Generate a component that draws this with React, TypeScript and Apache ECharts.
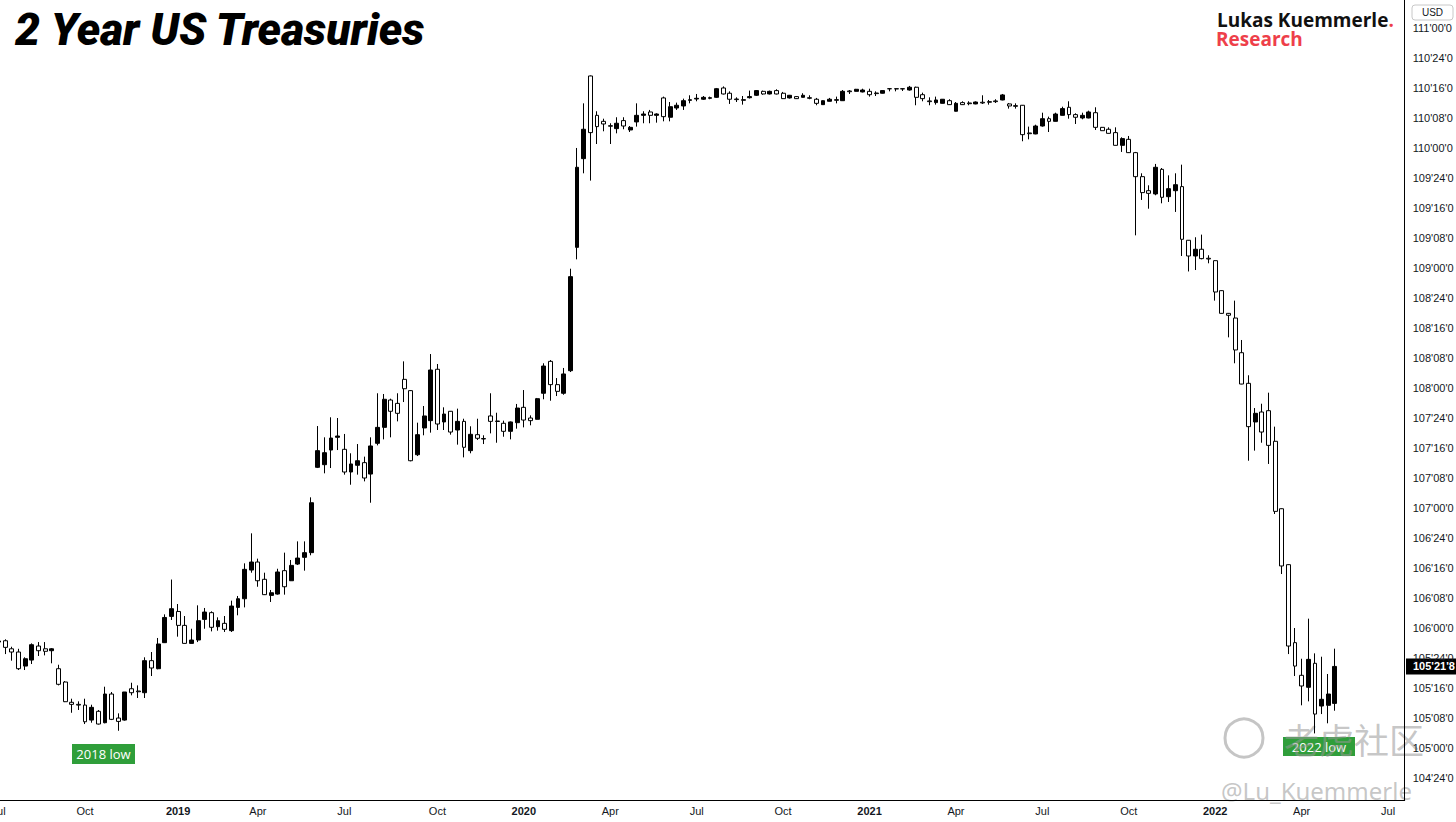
import React, { useEffect, useRef } from 'react';
import * as echarts from 'echarts';

// ---- data: weekly candles [open, close, low, high], first week starts 2018-07-02
const START_UTC = Date.UTC(2018, 6, 2);
const WEEK_COUNT = 212; // axis runs to mid-July 2022

const candles2018 = [
  [105.892, 105.883, 105.867, 105.908], [105.894, 105.839, 105.783, 105.906], [105.827, 105.800, 105.728, 105.844],
  [105.800, 105.661, 105.650, 105.827], [105.683, 105.744, 105.650, 105.756], [105.733, 105.861, 105.700, 105.872],
  [105.850, 105.811, 105.767, 105.883], [105.827, 105.806, 105.772, 105.883], [105.811, 105.827, 105.706, 105.833],
  [105.661, 105.531, 105.522, 105.694], [105.550, 105.386, 105.383, 105.558], [105.381, 105.364, 105.294, 105.411],
  [105.364, 105.358, 105.317, 105.389], [105.358, 105.219, 105.200, 105.411], [105.233, 105.339, 105.211, 105.361],
  [105.306, 105.200, 105.196, 105.317], [105.211, 105.450, 105.206, 105.511], [105.450, 105.239, 105.233, 105.467],
  [105.250, 105.222, 105.144, 105.289], [105.233, 105.467, 105.228, 105.467], [105.494, 105.461, 105.439, 105.544],
  [105.475, 105.469, 105.417, 105.522], [105.461, 105.728, 105.417, 105.756], [105.728, 105.667, 105.600, 105.800],
  [105.661, 105.867, 105.656, 105.917], [105.878, 106.088, 105.875, 106.114], [106.097, 106.161, 106.067, 106.404],
];
const candles2019 = [
  [106.138, 106.022, 105.928, 106.200], [106.022, 105.872, 105.871, 106.100], [105.872, 105.900, 105.871, 105.994],
  [105.900, 106.061, 105.883, 106.189], [106.072, 106.133, 105.994, 106.167], [106.128, 106.006, 105.972, 106.139],
  [106.011, 106.061, 105.978, 106.089], [106.039, 105.989, 105.967, 106.100], [105.978, 106.183, 105.967, 106.228],
  [106.172, 106.244, 106.106, 106.267], [106.244, 106.489, 106.172, 106.539], [106.483, 106.550, 106.461, 106.789],
  [106.550, 106.394, 106.344, 106.578], [106.406, 106.278, 106.275, 106.461], [106.272, 106.294, 106.217, 106.317],
  [106.283, 106.467, 106.278, 106.494], [106.478, 106.344, 106.278, 106.628], [106.394, 106.522, 106.392, 106.567],
  [106.533, 106.583, 106.525, 106.722], [106.589, 106.628, 106.478, 106.722], [106.628, 107.044, 106.606, 107.089],
  [107.339, 107.478, 107.333, 107.683], [107.361, 107.461, 107.289, 107.589], [107.483, 107.583, 107.333, 107.756],
  [107.589, 107.600, 107.483, 107.750], [107.489, 107.300, 107.278, 107.617], [107.300, 107.367, 107.194, 107.456],
  [107.356, 107.394, 107.278, 107.533], [107.378, 107.250, 107.222, 107.428], [107.283, 107.517, 107.044, 107.589],
  [107.539, 107.672, 107.522, 107.956], [107.672, 107.906, 107.572, 107.950], [107.900, 107.806, 107.589, 107.911],
  [107.872, 107.789, 107.722, 107.956], [108.072, 107.994, 107.883, 108.222], [107.978, 107.394, 107.389, 107.983],
  [107.444, 107.611, 107.433, 107.711], [107.667, 107.767, 107.606, 107.850], [107.728, 108.150, 107.628, 108.283],
  [108.156, 107.700, 107.650, 108.200], [107.717, 107.783, 107.650, 107.839], [107.806, 107.633, 107.611, 107.808],
  [107.650, 107.722, 107.528, 107.828], [107.722, 107.506, 107.422, 107.744], [107.478, 107.614, 107.456, 107.681],
  [107.611, 107.581, 107.567, 107.744], [107.579, 107.575, 107.533, 107.606], [107.767, 107.722, 107.622, 107.956],
  [107.725, 107.721, 107.544, 107.794], [107.706, 107.639, 107.594, 107.728], [107.639, 107.717, 107.572, 107.721],
  [107.711, 107.833, 107.661, 107.867],
];
const candles2020 = [
  [107.839, 107.733, 107.672, 107.983], [107.750, 107.728, 107.689, 107.772], [107.739, 107.911, 107.738, 107.917],
  [107.956, 108.183, 107.906, 108.206], [108.222, 108.028, 107.894, 108.233], [108.028, 107.972, 107.933, 108.083],
  [107.956, 108.117, 107.944, 108.167], [108.144, 108.928, 108.133, 108.994], [109.172, 109.839, 109.072, 110.000],
  [109.911, 110.156, 109.789, 110.372], [110.600, 110.128, 109.728, 110.604], [110.272, 110.178, 110.033, 110.306],
  [110.222, 110.200, 110.139, 110.244], [110.186, 110.181, 110.033, 110.206], [110.161, 110.206, 110.122, 110.256],
  [110.228, 110.183, 110.156, 110.256], [110.150, 110.172, 110.133, 110.183], [110.217, 110.272, 110.178, 110.372],
  [110.272, 110.283, 110.206, 110.306], [110.300, 110.272, 110.206, 110.317], [110.272, 110.283, 110.211, 110.289],
  [110.417, 110.261, 110.222, 110.428], [110.256, 110.344, 110.222, 110.383], [110.333, 110.356, 110.317, 110.378],
  [110.350, 110.394, 110.317, 110.411], [110.397, 110.402, 110.372, 110.439], [110.408, 110.414, 110.389, 110.450],
  [110.406, 110.422, 110.400, 110.433], [110.414, 110.419, 110.406, 110.428], [110.422, 110.494, 110.417, 110.500],
  [110.500, 110.450, 110.446, 110.513], [110.456, 110.406, 110.367, 110.472], [110.408, 110.403, 110.383, 110.422],
  [110.403, 110.397, 110.361, 110.433], [110.419, 110.428, 110.412, 110.478], [110.439, 110.478, 110.433, 110.483],
  [110.472, 110.450, 110.444, 110.478], [110.450, 110.472, 110.446, 110.478], [110.478, 110.450, 110.446, 110.489],
  [110.456, 110.411, 110.408, 110.467], [110.417, 110.439, 110.412, 110.442], [110.428, 110.411, 110.408, 110.433],
  [110.422, 110.439, 110.421, 110.456], [110.419, 110.414, 110.406, 110.439], [110.406, 110.372, 110.356, 110.417],
  [110.361, 110.394, 110.358, 110.397], [110.389, 110.406, 110.388, 110.417], [110.403, 110.397, 110.372, 110.428],
  [110.394, 110.472, 110.392, 110.483], [110.475, 110.469, 110.450, 110.483], [110.472, 110.489, 110.471, 110.492],
  [110.467, 110.483, 110.463, 110.494],
];
const candles2021 = [
  [110.472, 110.444, 110.428, 110.494], [110.458, 110.453, 110.433, 110.472], [110.456, 110.478, 110.454, 110.481],
  [110.494, 110.493, 110.472, 110.496], [110.494, 110.492, 110.472, 110.496], [110.494, 110.492, 110.475, 110.496],
  [110.483, 110.506, 110.478, 110.517], [110.506, 110.422, 110.356, 110.511], [110.444, 110.411, 110.389, 110.461],
  [110.392, 110.386, 110.356, 110.422], [110.378, 110.400, 110.361, 110.428], [110.372, 110.406, 110.371, 110.408],
  [110.394, 110.361, 110.358, 110.406], [110.306, 110.372, 110.304, 110.383], [110.378, 110.361, 110.358, 110.389],
  [110.375, 110.369, 110.356, 110.389], [110.367, 110.383, 110.364, 110.388], [110.381, 110.375, 110.367, 110.439],
  [110.386, 110.381, 110.361, 110.400], [110.392, 110.386, 110.375, 110.406], [110.400, 110.442, 110.397, 110.450],
  [110.367, 110.350, 110.328, 110.375], [110.353, 110.347, 110.328, 110.372], [110.356, 110.111, 110.056, 110.358],
  [110.125, 110.119, 110.072, 110.178], [110.117, 110.183, 110.114, 110.194], [110.183, 110.244, 110.178, 110.294],
  [110.244, 110.222, 110.133, 110.261], [110.222, 110.283, 110.221, 110.294], [110.272, 110.328, 110.271, 110.344],
  [110.339, 110.278, 110.244, 110.389], [110.278, 110.256, 110.200, 110.289], [110.250, 110.272, 110.239, 110.294],
  [110.250, 110.300, 110.247, 110.311], [110.294, 110.172, 110.150, 110.339], [110.172, 110.144, 110.142, 110.175],
  [110.156, 110.122, 110.121, 110.172], [110.128, 110.022, 110.021, 110.172], [110.022, 110.078, 109.967, 110.089],
  [110.072, 109.961, 109.958, 110.100], [109.961, 109.761, 109.272, 109.967], [109.761, 109.628, 109.567, 109.789],
  [109.644, 109.622, 109.494, 109.689], [109.617, 109.839, 109.606, 109.867], [109.822, 109.589, 109.539, 109.833],
  [109.594, 109.661, 109.550, 109.772], [109.644, 109.694, 109.467, 109.789], [109.678, 109.239, 109.100, 109.861],
  [109.231, 109.100, 108.971, 109.233], [109.100, 109.156, 108.983, 109.256], [109.156, 109.078, 109.072, 109.278],
  [109.081, 109.075, 109.039, 109.106],
];
const candles2022 = [
  [109.061, 108.800, 108.728, 109.064], [108.811, 108.622, 108.619, 108.814], [108.622, 108.606, 108.422, 108.625],
  [108.583, 108.317, 108.206, 108.728], [108.294, 108.033, 108.031, 108.400], [108.039, 107.678, 107.394, 108.106],
  [107.717, 107.789, 107.478, 107.833], [107.800, 107.633, 107.544, 107.869], [107.811, 107.522, 107.367, 107.961],
  [107.556, 106.972, 106.950, 107.678], [106.994, 106.517, 106.450, 106.997], [106.528, 105.850, 105.783, 106.531],
  [105.878, 105.683, 105.600, 106.000], [105.606, 105.517, 105.356, 105.744], [105.506, 105.739, 105.389, 106.078],
  [105.706, 105.283, 105.122, 105.789], [105.350, 105.406, 105.283, 105.761], [105.356, 105.450, 105.206, 105.617],
  [105.372, 105.680, 105.311, 105.828],
];

const Y_MIN = 104.567;
const Y_MAX = 111.233;
const Y_TICKS = [
  104.75, 105, 105.25, 105.5, 105.75, 106, 106.25, 106.5, 106.75, 107, 107.25, 107.5, 107.75,
  108, 108.25, 108.5, 108.75, 109, 109.25, 109.5, 109.75, 110, 110.25, 110.5, 110.75, 111,
];
const MONTH_LABELS: Record<number, string> = { 3: 'Apr', 6: 'Jul', 9: 'Oct' };

function fmt32(v: number): string {
  let w = Math.floor(v + 1e-9);
  const f = (v - w) * 32;
  let n = Math.floor(f + 1e-6);
  let q = Math.round((f - n) * 4);
  if (q === 4) { q = 0; n += 1; }
  if (n === 32) { n = 0; w += 1; }
  return `${w}'${String(n).padStart(2, '0')}'${[0, 2, 5, 8][q]}`;
}

export default function App() {
  const ref = useRef<HTMLDivElement>(null);
  useEffect(() => {
    document.body.style.margin = '0';
    const chart = echarts.init(ref.current!, null, { renderer: 'svg' });
    const candles = [...candles2018, ...candles2019, ...candles2020, ...candles2021, ...candles2022];
    const dates: string[] = [];
    const labelText: Record<number, string> = {};
    for (let i = 0; i < WEEK_COUNT; i++) {
      const d = new Date(START_UTC + i * 7 * 86400000);
      const m = d.getUTCMonth();
      dates.push(d.toISOString().slice(0, 10));
      if (d.getUTCDate() <= 7 && m % 3 === 0) {
        labelText[i] = m === 0 ? `{y|${d.getUTCFullYear()}}` : MONTH_LABELS[m];
      }
    }
    const axisFont = '"Liberation Sans", Arial, sans-serif';
    chart.setOption({
      animation: false,
      backgroundColor: '#ffffff',
      grid: { left: -4.7, right: 51.3, top: 0, bottom: 22, containLabel: false, outerBoundsMode: 'none' },
      xAxis: {
        type: 'category',
        data: dates,
        boundaryGap: true,
        axisLine: { show: true, lineStyle: { color: '#000', width: 1 } },
        axisTick: { show: false },
        splitLine: { show: false },
        axisLabel: {
          interval: (i: number) => labelText[i] !== undefined,
          formatter: (_v: string, i: number) => labelText[i] || '',
          margin: 5,
          fontSize: 11,
          color: '#131722',
          fontFamily: axisFont,
          rich: { y: { fontSize: 11, fontWeight: 'bold', color: '#131722', fontFamily: axisFont } },
        },
      },
      yAxis: {
        type: 'value',
        position: 'right',
        min: Y_MIN,
        max: Y_MAX,
        scale: true,
        axisLine: { show: true, lineStyle: { color: '#000', width: 1 } },
        axisTick: { show: false },
        splitLine: { show: false },
        axisLabel: {
          customValues: Y_TICKS,
          formatter: (v: number) => fmt32(v),
          margin: 8,
          fontSize: 11,
          color: '#131722',
          fontFamily: axisFont,
        },
      },
      series: [
        {
          type: 'candlestick',
          data: candles,
          barWidth: 4.4,
          itemStyle: { color: '#000', color0: '#fff', borderColor: '#000', borderColor0: '#000', borderWidth: 1 },
        },
      ],
    });

    const last = candles[candles.length - 1][1];
    const ly = chart.convertToPixel({ yAxisIndex: 0 }, last) as number;
    const wm = 'rgba(150,150,150,0.55)';
    chart.setOption({
      graphic: [
        { type: 'text', left: 15, top: 7, style: { text: '2 Year US Treasuries', font: 'italic 900 44.5px Roboto', fill: '#000' } },
        {
          type: 'text', left: 1217, top: 10,
          style: {
            text: '{a|Lukas Kuemmerle}{b|.}',
            rich: {
              a: { font: 'bold 19px "Open Sans"', fill: '#111', lineHeight: 19 },
              b: { font: 'bold 19px "Open Sans"', fill: '#ee3f4a', lineHeight: 19 },
            },
          },
        },
        { type: 'text', left: 1216, top: 29, style: { text: 'Research', font: 'bold 19px "Open Sans"', fill: '#ee3f4a', lineHeight: 19 } },
        { type: 'rect', shape: { x: 1412, y: 5, width: 41, height: 15, r: 3 }, style: { fill: '#fff', stroke: '#c8c8c8', lineWidth: 1 } },
        { type: 'text', x: 1432.5, y: 12.5, style: { text: 'USD', font: '10px "Liberation Sans"', fill: '#131722', align: 'center', verticalAlign: 'middle' } },
        { type: 'rect', shape: { x: 1406, y: ly - 8, width: 50, height: 16 }, style: { fill: '#000' } },
        { type: 'text', x: 1413, y: ly, style: { text: fmt32(last), font: 'bold 11px "Liberation Sans"', fill: '#fff', verticalAlign: 'middle' } },
        { type: 'rect', shape: { x: 72, y: 744, width: 63, height: 20 }, style: { fill: '#2f9e3a' } },
        { type: 'text', x: 103.5, y: 754, style: { text: '2018 low', font: '13px "Open Sans"', fill: '#fff', align: 'center', verticalAlign: 'middle' } },
        { type: 'rect', shape: { x: 1283, y: 737, width: 72, height: 19 }, style: { fill: '#2f9e3a' } },
        { type: 'text', x: 1319, y: 746.5, style: { text: '2022 low', font: '13px "Open Sans"', fill: '#fff', align: 'center', verticalAlign: 'middle' } },
        { type: 'circle', shape: { cx: 1244, cy: 738, r: 19 }, style: { fill: 'none', stroke: wm, lineWidth: 3 } },
        { type: 'text', x: 1284, y: 738, style: { text: '老虎社区', font: '35px "Noto Sans CJK SC"', fill: wm, verticalAlign: 'middle' } },
        { type: 'text', x: 1221, y: 790, style: { text: '@Lu_Kuemmerle', font: '24px "Noto Sans"', fill: wm, verticalAlign: 'middle' } },
      ],
    });
    return () => chart.dispose();
  }, []);
  return <div ref={ref} style={{ position: 'fixed', left: 0, top: 0, width: 1456, height: 822, background: '#fff' }} />;
}
